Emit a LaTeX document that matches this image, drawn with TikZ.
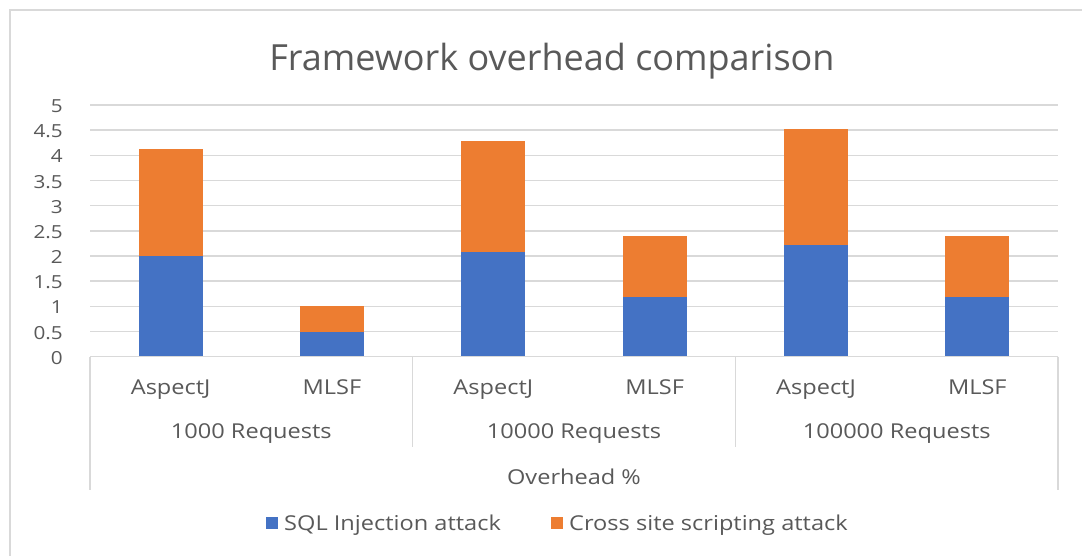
\documentclass[tikz,border=0pt]{standalone}
\usepackage{fontspec}
\setmainfont{Open Sans}
\newfontfamily\labelfont[FakeStretch=1.15]{Open Sans}
\definecolor{sqlblue}{HTML}{4472C4}
\definecolor{xssorange}{HTML}{ED7D31}
\definecolor{gridgray}{HTML}{D9D9D9}
\definecolor{textgray}{HTML}{595959}

\tikzset{
  gridline/.style={draw=gridgray, line width=1.4pt},
  axisline/.style={draw=gridgray, line width=1.4pt},
  frameline/.style={draw=gridgray, line width=1.4pt},
  charttitle/.style={text=textgray, inner sep=0pt, anchor=base,
    font=\fontsize{36}{40}\selectfont},
  ticklabel/.style={text=textgray, inner sep=0pt, anchor=base east,
    font=\labelfont\fontsize{18}{20}\selectfont},
  catlabel/.style={text=textgray, inner sep=0pt, anchor=base,
    font=\labelfont\fontsize{20.5}{24}\selectfont},
  legendtext/.style={text=textgray, inner sep=0pt, anchor=base west,
    font=\labelfont\fontsize{20.5}{24}\selectfont},
  legendkey/.style={inner sep=0pt, minimum size=12pt},
  sqlbar/.style={fill=sqlblue},
  xssbar/.style={fill=xssorange},
}

\begin{document}
\begin{tikzpicture}[x=1pt, y=-1pt]
  \useasboundingbox (0,0) rectangle (1082,556);
  \fill[white] (0,0) rectangle (1082,556);

  % chart area frame (open to the right and bottom)
  \draw[frameline] (10,556) -- (10,10) -- (1082,10);

  % title
  \node[charttitle] (title) at (552,71) {Framework overhead comparison};

  % value axis: horizontal gridlines and tick labels, 0 to 5 in steps of 0.5
  \begin{scope}[shift={(0,356.7)}, y=50.34pt]
    \foreach \v [count=\i] in {0.5,1,1.5,2,2.5,3,3.5,4,4.5,5}
      \draw[gridline] (90,\v) -- (1058,\v);
    \foreach \v/\t [count=\i] in {0/0,0.5/0.5,1/1,1.5/1.5,2/2,2.5/2.5,3/3,3.5/3.5,4/4,4.5/4.5,5/5}
      \node[ticklabel] (tick\i) at ([yshift=-7.5pt]63,\v) {\t};

    % stacked bars: centre / SQL injection / total
    \foreach \c/\s/\t in {170.67/2.0/4.12, 332.0/0.5/1.0,
                          493.33/2.08/4.29, 654.67/1.18/2.39,
                          816.0/2.22/4.52, 977.33/1.18/2.39} {
      \fill[sqlbar] (\c-32,0) rectangle (\c+32,\s);
      \fill[xssbar] (\c-32,\s) rectangle (\c+32,\t);
    }
  \end{scope}

  % category axis: baseline and group dividers
  \draw[axisline] (90,356.7) -- (1058,356.7);
  \draw[axisline] (90,356.7) -- (90,490);
  \draw[axisline] (1058,356.7) -- (1058,490);
  \draw[axisline] (412.67,356.7) -- (412.67,447);
  \draw[axisline] (735.33,356.7) -- (735.33,447);

  % category labels
  \node[catlabel] (aj1) at (170.67,394) {AspectJ};
  \node[catlabel] (ml1) at (332.0,394) {MLSF};
  \node[catlabel] (aj2) at (493.33,394) {AspectJ};
  \node[catlabel] (ml2) at (654.67,394) {MLSF};
  \node[catlabel] (aj3) at (816.0,394) {AspectJ};
  \node[catlabel] (ml3) at (977.33,394) {MLSF};

  \node[catlabel] (g1) at (251.33,438.3) {1000 Requests};
  \node[catlabel] (g2) at (574.0,438.3) {10000 Requests};
  \node[catlabel] (g3) at (896.67,438.3) {100000 Requests};

  \node[catlabel] (outer) at (574.0,484) {Overhead \%};

  % legend
  \node[legendkey, fill=sqlblue] (sqlkey) at (272,523) {};
  \node[legendtext] (sqltext) at (284,530) {SQL Injection attack};
  \node[legendkey, fill=xssorange] (xsskey) at (557,523) {};
  \node[legendtext] (xsstext) at (569,530) {Cross site scripting attack};
\end{tikzpicture}
\end{document}
